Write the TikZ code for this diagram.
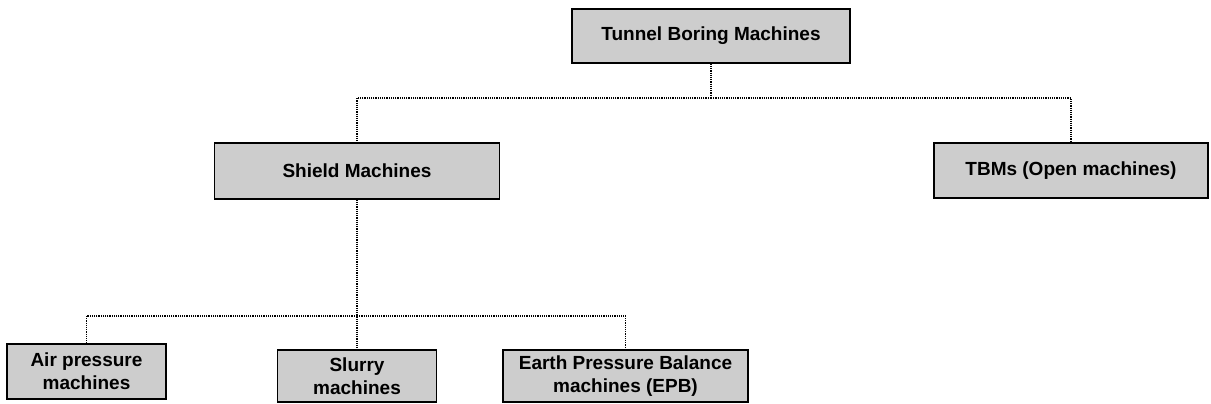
\documentclass[tikz,border=0pt]{standalone}
\usepackage{fontspec}
\setmainfont{Liberation Sans}
\definecolor{boxfill}{RGB}{205,205,205}
\begin{document}
\begin{tikzpicture}[x=1pt,y=1pt,
  box/.style={draw=black,line width=1.5pt,fill=boxfill,inner sep=0pt,
    font=\fontsize{19}{23}\selectfont\bfseries,align=center},
  conn/.style={line width=1.2pt,dash pattern=on 1.2pt off 1pt,draw=black}]
\useasboundingbox (0,0) rectangle (1211,404);
\node[box,minimum width=278,minimum height=54] (top) at (711,368) {Tunnel Boring Machines};
\node[box,minimum width=285,minimum height=56] (shield) at (357,233) {Shield Machines};
\node[box,minimum width=274,minimum height=55] (tbm) at (1071,233.5) {TBMs (Open machines)};
\node[box,minimum width=159,minimum height=55] (air) at (86.5,32.5) {Air pressure\\machines};
\node[box,minimum width=159,minimum height=52] (slurry) at (357,28) {Slurry\\machines};
\node[box,minimum width=245,minimum height=52] (epb) at (625.5,28) {Earth Pressure Balance\\machines (EPB)};
\coordinate (j1) at (711,306);
\coordinate (j2) at (357,88);
\draw[conn] (top.south) -- (j1);
\draw[conn] (j1) -| (shield.north);
\draw[conn] (j1) -| (tbm.north);
\draw[conn] (shield.south) -- (j2) -- (slurry.north);
\draw[conn] (j2) -| (air.north);
\draw[conn] (j2) -| (epb.north);
\end{tikzpicture}
\end{document}
